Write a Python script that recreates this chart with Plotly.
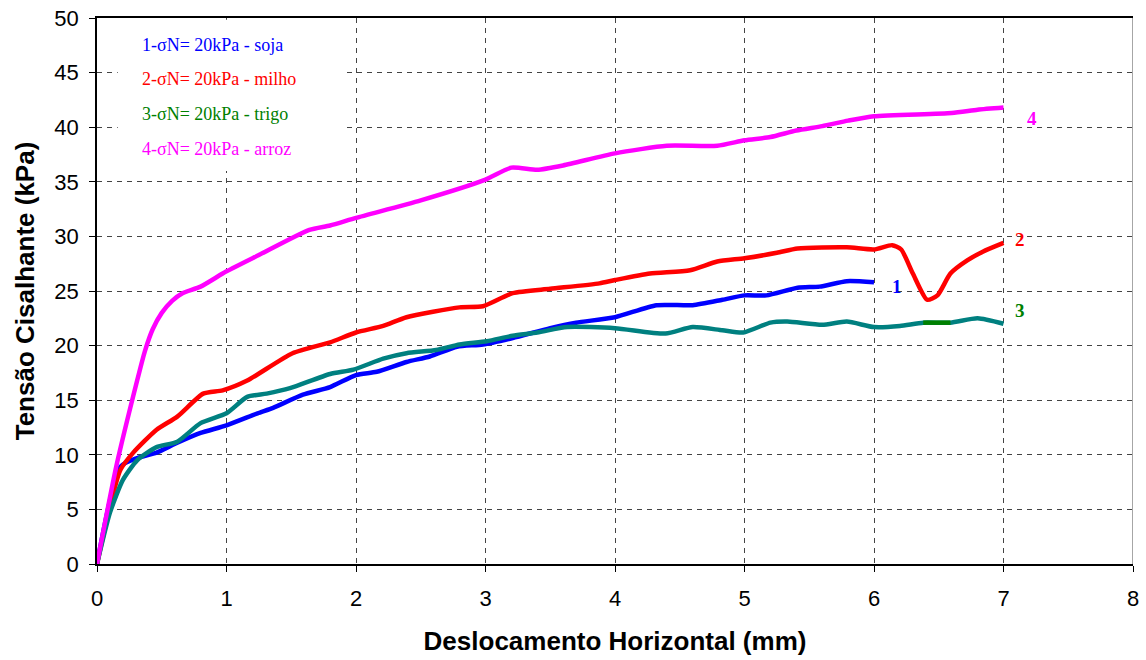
import plotly.graph_objects as go

# Data
soja_x = [0, 0.18, 0.31, 0.46, 0.62, 0.80, 1.0, 1.24, 1.36, 1.59, 1.80, 2.0, 2.16, 2.39, 2.57, 2.78, 2.98, 3.21, 3.50, 3.70, 4.0, 4.32, 4.6, 4.83, 5.0, 5.17, 5.41, 5.58, 5.79, 6.0]
soja_y = [0, 8.9, 9.7, 10.2, 11.1, 12.0, 12.7, 13.8, 14.3, 15.5, 16.2, 17.3, 17.6, 18.5, 19.0, 19.9, 20.1, 20.7, 21.6, 22.1, 22.6, 23.7, 23.7, 24.2, 24.6, 24.6, 25.3, 25.4, 25.9, 25.8]

milho_x = [0, 0.18, 0.28, 0.46, 0.62, 0.82, 0.97, 1.16, 1.51, 1.80, 2.0, 2.21, 2.39, 2.80, 2.98, 3.21, 3.50, 3.88, 4.0, 4.27, 4.58, 4.79, 5.0, 5.25, 5.41, 5.79, 6.0, 6.14, 6.21, 6.30, 6.41, 6.49, 6.59, 6.72, 6.84, 7.0]
milho_y = [0, 8.6, 10.2, 12.3, 13.5, 15.6, 15.9, 16.8, 19.3, 20.3, 21.2, 21.8, 22.6, 23.5, 23.6, 24.8, 25.2, 25.7, 26.0, 26.6, 26.9, 27.7, 28.0, 28.5, 28.9, 29.0, 28.8, 29.2, 28.8, 26.6, 24.2, 24.6, 26.6, 27.8, 28.6, 29.4]

trigo_x = [0, 0.10, 0.20, 0.31, 0.46, 0.62, 0.80, 1.0, 1.16, 1.31, 1.49, 1.80, 1.98, 2.21, 2.39, 2.62, 2.80, 3.01, 3.21, 3.40, 3.63, 4.0, 4.39, 4.6, 4.83, 4.99, 5.2, 5.33, 5.6, 5.79, 6.0, 6.2, 6.38, 6.59, 6.8, 7.0]
trigo_y = [0, 4.7, 7.7, 9.5, 10.7, 11.2, 12.9, 13.8, 15.3, 15.6, 16.1, 17.4, 17.8, 18.8, 19.3, 19.6, 20.1, 20.4, 20.9, 21.2, 21.7, 21.6, 21.1, 21.7, 21.4, 21.2, 22.1, 22.2, 21.9, 22.2, 21.7, 21.8, 22.1, 22.1, 22.5, 22.0]

arroz_x = [0, 0.15, 0.31, 0.37, 0.43, 0.50, 0.58, 0.66, 0.8, 1.0, 1.25, 1.64, 1.8, 2.0, 2.5, 3.0, 3.2, 3.4, 3.6, 4.0, 4.4, 4.79, 5.0, 5.2, 5.4, 5.6, 5.8, 6.0, 6.6, 6.8, 7.0]
arroz_y = [0, 9.0, 16.8, 19.5, 21.5, 23.0, 24.1, 24.8, 25.4, 26.8, 28.3, 30.6, 31.0, 31.7, 33.3, 35.2, 36.3, 36.1, 36.5, 37.6, 38.3, 38.3, 38.8, 39.1, 39.7, 40.1, 40.6, 41.0, 41.3, 41.6, 41.8]

legend_labels = ["1-σN= 20kPa - soja", "2-σN= 20kPa - milho", "3-σN= 20kPa - trigo", "4-σN= 20kPa - arroz"]
legend_colors = ["#0000FF", "#FF0000", "#008000", "#FF00FF"]
end_labels = ["1", "2", "3", "4"]
end_label_x = [6.18, 7.13, 7.13, 7.22]
end_label_y = [25.4, 29.7, 23.2, 40.8]

x_ticks = [0, 1, 2, 3, 4, 5, 6, 7, 8]
y_ticks = [0, 5, 10, 15, 20, 25, 30, 35, 40, 45, 50]

fig = go.Figure()
series = [
    (soja_x, soja_y, "#0000FF"),
    (milho_x, milho_y, "#FF0000"),
    (trigo_x, trigo_y, "#008080"),
    (arroz_x, arroz_y, "#FF00FF"),
]
for xs, ys, c in series:
    fig.add_trace(go.Scatter(x=xs, y=ys, mode="lines",
                             line=dict(color=c, width=4.5, shape="spline", smoothing=0.6),
                             showlegend=False, hoverinfo="skip"))
# small green segment on trigo curve
fig.add_trace(go.Scatter(x=trigo_x[32:34], y=trigo_y[32:34], mode="lines",
                         line=dict(color="#008000", width=4.5), showlegend=False, hoverinfo="skip"))

# white legend box (covers grid lines)
fig.add_shape(type="rect", xref="x", yref="y", x0=0.16, x1=1.92, y0=36.0, y1=49.85,
              fillcolor="white", line=dict(width=0), layer="above")
# right frame line
fig.add_shape(type="line", xref="x", yref="y", x0=8, x1=8, y0=-0.6, y1=50,
              line=dict(color="#888888", width=1.5), layer="above")

leg_y = [47.5, 44.4, 41.2, 38.0]
for t, c, yy in zip(legend_labels, legend_colors, leg_y):
    fig.add_annotation(x=0.33, y=yy, xref="x", yref="y", text=t, showarrow=False,
                       xanchor="left", yanchor="middle",
                       font=dict(family="Liberation Serif", size=18, color=c))

for t, c, xx, yy in zip(end_labels, legend_colors, end_label_x, end_label_y):
    fig.add_annotation(x=xx, y=yy, xref="x", yref="y", text="<b>" + t + "</b>", showarrow=False,
                       xanchor="center", yanchor="middle",
                       font=dict(family="Liberation Serif", size=19, color=c))

fig.update_layout(
    width=1146, height=660,
    margin=dict(l=97, r=13, t=18, b=96),
    paper_bgcolor="white", plot_bgcolor="white",
    font=dict(family="Liberation Sans, Arial", color="black"),
)
fig.update_xaxes(range=[0, 8], tickvals=x_ticks, ticktext=[str(v) for v in x_ticks],
                 showgrid=True, gridcolor="#444444", griddash="5px,5px", gridwidth=1,
                 showline=True, linecolor="black", linewidth=1.5, mirror=True,
                 ticks="outside", ticklen=6, tickcolor="black", ticklabelstandoff=8,
                 ticklabeloverflow="allow",
                 tickfont=dict(size=22), zeroline=False, automargin=False,
                 title=dict(text="<b>Deslocamento Horizontal (mm)</b>", font=dict(size=26), standoff=22))
fig.update_yaxes(range=[0, 50], tickvals=y_ticks, ticktext=[str(v) for v in y_ticks],
                 showgrid=True, gridcolor="#444444", griddash="5px,5px", gridwidth=1,
                 showline=True, linecolor="black", linewidth=1.5,
                 ticks="outside", ticklen=6, tickcolor="black", ticklabelstandoff=6,
                 ticklabeloverflow="allow",
                 tickfont=dict(size=22), zeroline=False, automargin=False,
                 title=dict(text="<b>Tensão Cisalhante (kPa)</b>", font=dict(size=26), standoff=12))

fig.write_html("out.html", config={"displayModeBar": False},
               post_script="document.body.style.margin='0';document.body.style.overflow='hidden';")
